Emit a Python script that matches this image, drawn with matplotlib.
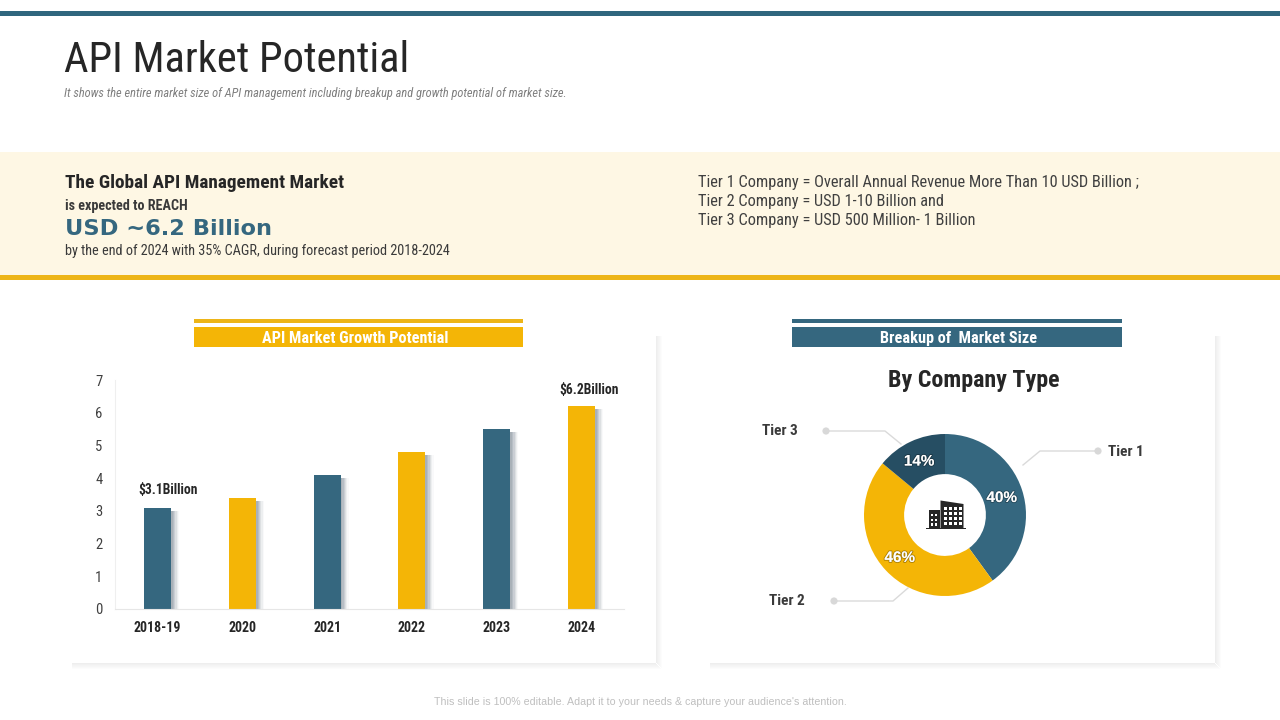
"""Recreate the API Market Potential slide."""

import matplotlib

matplotlib.use("Agg")
import matplotlib.patheffects as pe
import matplotlib.pyplot as plt
from matplotlib.patches import Circle, Polygon, Rectangle

plt.rcParams["font.family"] = ["Roboto Condensed", "Liberation Sans", "DejaVu Sans"]

TEAL = "#35677F"
YELLOW = "#F4B506"
DARK_TEAL = "#264E63"
GOLD = "#EDB518"
CREAM = "#FEF7E4"
INK = "#262626"

YEARS = ["2018-19", "2020", "2021", "2022", "2023", "2024"]
MARKET_SIZE = [3.1, 3.4, 4.1, 4.8, 5.5, 6.2]
BAR_COLORS = [TEAL, YELLOW, TEAL, YELLOW, TEAL, YELLOW]
Y_TICKS = [0, 1, 2, 3, 4, 5, 6, 7]
BAR_NOTES = {0: r"\$3.1Billion", 5: r"\$6.2Billion"}

TIERS = ["Tier 1", "Tier 2", "Tier 3"]
TIER_SHARE = [40, 46, 14]
TIER_COLORS = [TEAL, YELLOW, DARK_TEAL]
TIER_DEFS = [
    "Tier 1 Company = Overall Annual Revenue More Than 10 USD Billion ;",
    "Tier 2 Company = USD 1-10 Billion and",
    "Tier 3 Company = USD 500 Million- 1 Billion",
]


def px_axes(fig, rect, zorder=0):
    # rect is left, top, width, height in slide pixels
    left, top, w, h = rect
    ax = fig.add_axes([left / 1280, 1 - (top + h) / 720, w / 1280, h / 720], zorder=zorder)
    return ax


def card_shadow(bg, x0, y0, x1, y1):
    for i in range(6):
        alpha = 0.13 - i * 0.021
        bg.add_patch(Rectangle((x1 + i, y0), 1, y1 - y0 + i, color="#808080", alpha=alpha, lw=0))
        bg.add_patch(Rectangle((x0, y1 + i), x1 - x0 + i, 1, color="#808080", alpha=alpha, lw=0))


def draw_background(bg):
    bg.add_patch(Rectangle((0, 11), 1280, 5, color="#2F667E", lw=0))
    bg.add_patch(Rectangle((0, 152), 1280, 124, color=CREAM, lw=0))
    bg.add_patch(Rectangle((0, 275), 1280, 5, color=GOLD, lw=0))

    card_shadow(bg, 72, 336, 656, 663)
    card_shadow(bg, 710, 336, 1215, 663)

    bg.add_patch(Rectangle((194, 319), 329, 4, color=GOLD, lw=0))
    bg.add_patch(Rectangle((194, 327), 329, 20, color=YELLOW, lw=0))
    bg.add_patch(Rectangle((792, 319), 330, 4, color=TEAL, lw=0))
    bg.add_patch(Rectangle((792, 327), 330, 20, color=TEAL, lw=0))


def draw_text(bg):
    bg.text(64, 61, "API Market Potential", fontsize=30.6, color=INK, va="center")
    bg.text(64, 93, "It shows the entire market size of API management including breakup and growth potential of market size.",
            fontsize=8.95, color="#7F7F7F", style="italic", va="center")

    bg.text(65, 182.5, "The Global API Management Market", fontsize=13.9, color=INK, weight="bold", va="center")
    bg.text(65, 206, "is expected to REACH", fontsize=10.2, color="#3A3A3A", weight="bold", va="center")
    bg.text(65, 229, "USD ~6.2 Billion", fontsize=16.2, color=TEAL, weight="bold", va="center",
            family=["DejaVu Sans"])
    bg.text(65, 251, "by the end of 2024 with 35% CAGR, during forecast period 2018-2024",
            fontsize=10.3, color="#3A3A3A", va="center")

    for y, line in zip([187, 206, 225], TIER_DEFS):
        bg.text(698, y, line, fontsize=11.8, color="#404040", va="baseline")

    bg.text(355.5, 338.5, "API Market Growth Potential", fontsize=11.7, color="white", weight="bold",
            ha="center", va="center")
    bg.text(958.5, 338.5, "Breakup of  Market Size", fontsize=11.7, color="white", weight="bold",
            ha="center", va="center")
    bg.text(973.5, 380, "By Company Type", fontsize=17.3, color=INK, weight="bold", ha="center", va="center")

    bg.text(640, 702, "This slide is 100% editable. Adapt it to your needs & capture your audience's attention.",
            fontsize=7.7, color="#BFBFBF", ha="center", va="center", family=["Liberation Sans"])


def draw_bars(ax):
    x = range(len(YEARS))
    width = 0.32
    # soft shadow to the right of each bar
    for step, alpha in zip([0.02, 0.035, 0.05, 0.065, 0.08, 0.095], [0.30, 0.28, 0.22, 0.16, 0.10, 0.05]):
        ax.bar([i + step for i in x], [v - 0.09 for v in MARKET_SIZE], width,
               color="#8A96A0", alpha=alpha, lw=0, zorder=1)
    ax.bar(x, MARKET_SIZE, width, color=BAR_COLORS, lw=0, zorder=2)

    offsets = {0: (8, 10), 5: (5.4, 8.5)}
    for i, note in BAR_NOTES.items():
        ax.annotate(note, (i, MARKET_SIZE[i]), xytext=offsets[i], textcoords="offset points", ha="center",
                    fontsize=9.8, color=INK, weight="bold")

    ax.set_xlim(-0.5, 5.5)
    ax.set_ylim(0, 7)
    ax.set_xticks(list(x))
    ax.set_xticklabels(YEARS, fontsize=10, weight="bold", color=INK)
    ax.set_yticks(Y_TICKS)
    ax.tick_params(axis="y", length=0, labelsize=10.5, labelcolor="#404040", pad=9)
    ax.tick_params(axis="x", length=0, pad=9)
    ax.patch.set_alpha(0)
    for side in ["top", "right"]:
        ax.spines[side].set_visible(False)
    ax.spines["left"].set_color("#EFEFEF")
    ax.spines["bottom"].set_color("#E6E6E6")


def draw_donut(ax):
    ax.pie(TIER_SHARE, colors=TIER_COLORS, startangle=90, counterclock=False,
           radius=1.0, wedgeprops={"width": 0.495, "linewidth": 0})
    ax.set_xlim(-1, 1)
    ax.set_ylim(-1, 1)
    ax.patch.set_alpha(0)

    shadow = [pe.withStroke(linewidth=1.4, foreground="#00000044")]
    label_pos = [(0.70, 0.21), (-0.56, -0.53), (-0.32, 0.66)]
    for share, (lx, ly) in zip(TIER_SHARE, label_pos):
        ax.text(lx, ly, f"{share}%", color="white", fontsize=11, weight="bold", ha="center", va="center",
                path_effects=shadow, family=["Liberation Sans"])


def draw_leaders(bg):
    line = {"color": "#DADADA", "lw": 1, "zorder": 1}
    bg.plot([1098, 1040, 1023], [451, 451, 465], **line)
    bg.plot([826, 885, 901], [431, 431, 444], **line)
    bg.plot([834, 893, 908], [601, 601, 588], **line)
    for cx, cy in [(1098, 451), (826, 431), (834, 601)]:
        bg.add_patch(Circle((cx, cy), 3.6, color="#D8D8D8", lw=0))
    for (lx, ly), name, ha in zip([(1108, 452), (805, 601), (798, 431)], TIERS, ["left", "right", "right"]):
        bg.text(lx, ly, name, fontsize=11, weight="bold", color="#3A3A3A", ha=ha, va="center")


def draw_building(bg):
    bg.add_patch(Rectangle((926, 527.5), 40, 1.8, color=INK, lw=0))
    bg.add_patch(Rectangle((928.5, 510), 11, 18, color=INK, lw=0))
    bg.add_patch(Polygon([(940.5, 528), (940.5, 500.5), (963.5, 504), (963.5, 528)], color=INK, lw=0))
    for col in range(4):
        for row in range(4):
            bg.add_patch(Rectangle((944 + col * 4.9, 507 + row * 4.9), 3, 3, color="white", lw=0))
    for row in range(3):
        bg.add_patch(Rectangle((931, 514 + row * 4.6), 2.4, 2.4, color="white", lw=0))
        bg.add_patch(Rectangle((935, 514 + row * 4.6), 2.4, 2.4, color="white", lw=0))


def main():
    fig = plt.figure(figsize=(12.8, 7.2), dpi=100, facecolor="white")

    bg = fig.add_axes([0, 0, 1, 1], zorder=0)
    bg.set_xlim(0, 1280)
    bg.set_ylim(720, 0)
    bg.axis("off")
    draw_background(bg)
    draw_text(bg)
    draw_leaders(bg)

    ax_bar = px_axes(fig, (115, 380, 509, 229), zorder=2)
    draw_bars(ax_bar)

    ax_pie = px_axes(fig, (864, 434, 162, 162), zorder=2)
    draw_donut(ax_pie)

    top = fig.add_axes([0, 0, 1, 1], zorder=3)
    top.set_xlim(0, 1280)
    top.set_ylim(720, 0)
    top.axis("off")
    draw_building(top)

    fig.savefig("out.png", dpi=100)
    plt.close(fig)


if __name__ == "__main__":
    main()
